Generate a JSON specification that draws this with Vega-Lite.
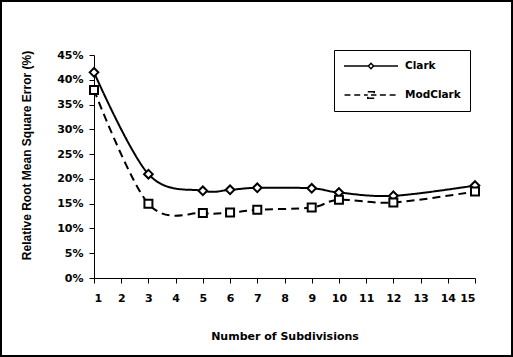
{
  "$schema": "https://vega.github.io/schema/vega-lite/v6.json",
  "width": 511,
  "height": 355,
  "padding": 1,
  "autosize": {"type": "none"},
  "background": "white",
  "config": {
    "view": {"stroke": "black", "strokeWidth": 2},
    "axis": {
      "grid": false,
      "domainColor": "black",
      "tickColor": "black",
      "labelColor": "black",
      "titleColor": "black",
      "labelFont": "DejaVu Sans",
      "labelFontWeight": "bold",
      "labelFontSize": 11,
      "tickSize": 5,
      "domainWidth": 1,
      "tickWidth": 1
    },
    "legend": {
      "orient": "none",
      "legendX": 333,
      "legendY": 49,
      "strokeColor": "black",
      "fillColor": "white",
      "padding": 9,
      "symbolSize": 2916,
      "symbolStrokeWidth": 1.5,
      "symbolStrokeColor": "black",
      "symbolFillColor": "white",
      "labelOffset": 6,
      "clipHeight": 14,
      "rowPadding": 15,
      "labelFont": "DejaVu Sans",
      "labelFontWeight": "bold",
      "labelFontSize": 10.5,
      "labelColor": "black"
    }
  },
  "data": {
    "values": [
      {"n": 1, "rmse": 0.415, "series": "Clark"},
      {"n": 3, "rmse": 0.2096, "series": "Clark"},
      {"n": 5, "rmse": 0.176, "series": "Clark"},
      {"n": 6, "rmse": 0.178, "series": "Clark"},
      {"n": 7, "rmse": 0.182, "series": "Clark"},
      {"n": 9, "rmse": 0.181, "series": "Clark"},
      {"n": 10, "rmse": 0.1725, "series": "Clark"},
      {"n": 12, "rmse": 0.1658, "series": "Clark"},
      {"n": 15, "rmse": 0.1866, "series": "Clark"},
      {"n": 1, "rmse": 0.3795, "series": "ModClark"},
      {"n": 3, "rmse": 0.1497, "series": "ModClark"},
      {"n": 5, "rmse": 0.131, "series": "ModClark"},
      {"n": 6, "rmse": 0.132, "series": "ModClark"},
      {"n": 7, "rmse": 0.1377, "series": "ModClark"},
      {"n": 9, "rmse": 0.1423, "series": "ModClark"},
      {"n": 10, "rmse": 0.1578, "series": "ModClark"},
      {"n": 12, "rmse": 0.1524, "series": "ModClark"},
      {"n": 15, "rmse": 0.1745, "series": "ModClark"}
    ]
  },
  "encoding": {
    "x": {
      "field": "n",
      "type": "quantitative",
      "scale": {"domain": [1, 15], "range": [93, 474], "nice": false, "zero": false},
      "axis": {
        "orient": "bottom",
        "offset": -78,
        "values": [1, 2, 3, 4, 5, 6, 7, 8, 9, 10, 11, 12, 13, 14, 15],
        "labelPadding": 9,
        "title": "Number of Subdivisions",
        "titleFont": "DejaVu Sans",
        "titleFontWeight": "bold",
        "titleFontSize": 11,
        "titlePadding": 27
      }
    },
    "y": {
      "field": "rmse",
      "type": "quantitative",
      "scale": {"domain": [0, 0.45], "range": [277, 54], "nice": false, "zero": false},
      "axis": {
        "orient": "left",
        "offset": -93,
        "values": [0, 0.05, 0.1, 0.15, 0.2, 0.25, 0.3, 0.35, 0.4, 0.45],
        "format": ".0%",
        "labelPadding": 6,
        "title": "Relative Root Mean Square Error  (%)",
        "titleFont": "Liberation Sans",
        "titleFontWeight": "bold",
        "titleFontSize": 12,
        "titlePadding": 23,
        "titleY": 154
      }
    }
  },
  "layer": [
    {
      "mark": {"type": "line", "interpolate": "cardinal", "color": "black", "strokeWidth": 2},
      "encoding": {
        "strokeDash": {
          "field": "series",
          "type": "nominal",
          "scale": {"domain": ["Clark", "ModClark"], "range": [[1, 0], [8, 5]]},
          "legend": {
            "title": null,
            "encode": {
              "symbols": {
                "update": {
                  "shape": {"signal": "datum.value === 'Clark' ? 'M-1,0H-0.1M0.1,0H1M0,-0.1L0.1,0L0,0.1L-0.1,0Z' : 'M-0.98,0H-0.76M-0.62,0H-0.4M-0.26,0H-0.12M0,0H0.2M0.33,0H0.55M0.69,0H0.91M-0.12,-0.12H0.12V0.12H-0.12Z'"},
                  "strokeDash": {"value": [1, 0]},
                  "strokeWidth": {"value": 1.5},
                  "stroke": {"value": "black"},
                  "fill": {"value": "white"}
                }
              }
            }
          }
        }
      }
    },
    {
      "transform": [{"filter": "datum.series === 'Clark'"}],
      "mark": {"type": "point", "shape": "diamond", "filled": true, "fill": "white", "stroke": "black", "strokeWidth": 2, "opacity": 1, "size": 75}
    },
    {
      "transform": [{"filter": "datum.series === 'ModClark'"}],
      "mark": {"type": "point", "shape": "square", "filled": true, "fill": "white", "stroke": "black", "strokeWidth": 2, "opacity": 1, "size": 64}
    }
  ]
}
